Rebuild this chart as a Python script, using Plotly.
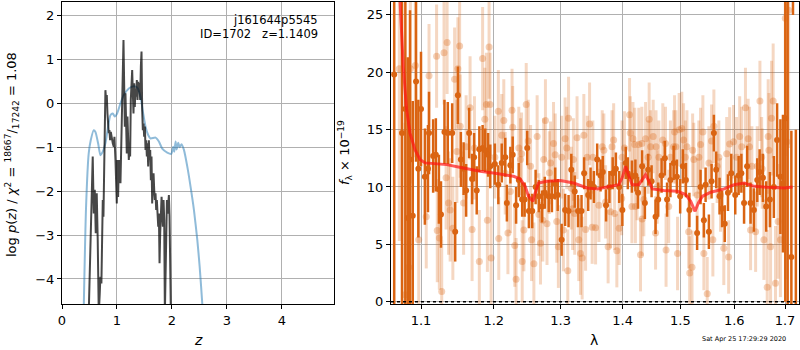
import plotly.graph_objects as go

# ---------------- left panel: p(z) curves ----------------
blue_z = [0.395,0.438,0.486,0.523,0.578,0.608,0.657,0.699,0.742,0.790,0.839,0.881,0.924,0.960,1.003,
          1.064,1.125,1.216,1.307,1.368,1.429,1.477,1.520,1.568,1.611,1.702,1.763,1.824,1.915,1.988,
          2.024,2.043,2.067,2.085,2.116,2.140,2.176,2.219,2.280,2.340,2.401,2.462,2.505,2.553,2.58]
blue_v = [-4.7,-2.35,-1.14,-0.84,-0.61,-0.65,-0.91,-1.18,-1.10,-0.91,-0.53,-0.27,-0.23,-0.30,-0.23,
          0.0,0.19,0.34,0.39,0.36,0.15,-0.23,-0.53,-0.72,-0.80,-0.78,-0.87,-1.03,-1.12,-1.15,
          -0.99,-1.10,-0.87,-1.05,-0.90,-1.00,-0.93,-1.06,-1.44,-1.90,-2.43,-3.11,-3.72,-4.57,-5.2]

dark_z = [0.486,0.517,0.535,0.559,0.578,0.596,0.614,0.632,0.650,0.669,0.687,0.699,0.717,0.729,0.742,
          0.754,0.766,0.778,0.790,0.802,0.815,0.827,0.839,0.851,0.863,0.875,0.888,0.900,0.912,0.924,
          0.942,0.954,0.973,0.985,0.997,1.009,1.021,1.033,1.046,1.064,1.082,1.094,1.106,1.119,1.131,
          1.143,1.155,1.167,1.179,1.191,1.204,1.216,1.228,1.240,1.252,1.264,1.277,1.289,1.301,1.313,
          1.325,1.337,1.350,1.362,1.374,1.386,1.398,1.410,1.422,1.435,1.447,1.459,1.471,1.483,1.495,
          1.508,1.520,1.532,1.544,1.556,1.568,1.581,1.593,1.605,1.617,1.629,1.641,1.653,1.666,1.678,
          1.690,1.702,1.714,1.726,1.739,1.751,1.763,1.775,1.787,1.799,1.812,1.824,1.836,1.848,1.860,
          1.872,1.884,1.897,1.909,1.921,1.933,1.945,1.957,1.970,1.982]
dark_v = [-4.8,-2.96,-2.51,-1.21,-2.51,-1.97,-2.96,-2.05,-3.11,-4.8,-4.33,-3.95,-4.10,-2.96,-2.20,
          -2.58,-1.21,-0.53,0.30,0.08,0.19,-0.23,-0.53,-0.68,-0.61,-0.84,-0.65,-0.76,-0.84,-0.91,
          -0.99,-0.76,-1.29,-1.97,-2.28,-1.29,-2.13,-1.44,-1.29,-1.82,-0.68,0.08,0.84,1.44,0.46,
          -0.53,0.23,-0.68,-1.14,-0.30,-0.84,-1.29,-0.99,-1.21,0.08,0.72,0.76,0.23,-0.23,0.46,
          -0.08,0.34,0.15,0.53,0.08,0.49,0.30,0.46,0.08,0.84,1.18,-0.15,-0.61,-0.46,-0.76,
          -0.53,-1.06,-0.84,-1.21,-0.91,-1.44,-0.84,-1.29,-1.06,-1.75,-1.21,-2.28,-1.90,-1.59,-1.97,
          -2.20,-2.05,-2.43,-2.20,-2.51,-2.81,-2.51,-3.64,-2.96,-2.35,-2.13,-2.51,-2.81,-2.20,-2.66,
          -4.8,-3.72,-2.35,-2.20,-2.51,-2.13,-2.09,-2.58,-3.72,-4.9]

# ---------------- right panel: spectrum ----------------
# dark (primary) spectrum points
lam_d = [1.0653,1.0753,1.0796,1.0827,1.0857,1.0892,1.0935,1.0965,1.1000,1.1051,1.1092,1.1106,1.1161,1.1197,1.1238,
         1.1266,1.1313,1.1358,1.1418,1.1459,1.1496,1.1537,1.1575,1.1610,1.1652,1.1693,1.1721,1.1758,1.1795,1.1841,
         1.1878,1.1919,1.1950,
         1.2016,1.2066,1.2115,1.2166,1.2190,1.2241,1.2275,1.2325,1.2365,1.2415,1.2451,1.2490,1.2515,1.2565,1.2616,
         1.2665,1.2714,1.2755,1.2815,1.2864,1.2915,1.2954,1.3015,1.3069,1.3123,1.3166,1.3220,1.3273,1.3328,1.3370,
         1.3435,1.3473,
         1.3527,1.3580,1.3635,1.3672,1.3725,1.3780,1.3834,1.3887,1.3942,1.3995,1.4052,1.4087,1.4156,1.4215,1.4260,
         1.4330,1.4377,1.4434,1.4493,1.4562,1.4608,1.4667,1.4724,1.4764,1.4823,1.4880,1.4938,1.4997,1.5045,1.5100,
         1.5163,
         1.5304,1.5367,1.5428,1.5460,1.5521,1.5571,1.5614,1.5657,1.5720,1.5768,1.5818,1.5879,1.5942,1.6018,1.6083,
         1.6136,1.6188,1.6247,1.6314,1.6379,1.6445,1.6492,1.6557,1.6622,1.6696,1.6775,1.6840,1.6907,1.6959,1.7006,
         1.7054,1.7130,1.7163,1.7222]
flux_d = [19.8,14.7,16.8,7.3,12.4,7.5,19.2,11.6,16.8,10.9,11.6,14.7,12.7,12.8,9.8,
          7.6,14.8,14.7,14.7,6.1,18.0,12.4,11.6,9.7,14.7,10.7,12.6,9.7,13.3,13.4,
          13.2,12.8,11.8,
          12.0,10.2,12.1,12.6,8.6,11.9,12.8,8.4,10.6,8.9,8.9,13.4,7.9,7.9,10.0,
          9.2,8.3,9.5,9.2,9.2,10.3,9.3,5.4,8.0,7.9,11.5,9.6,7.9,7.9,11.2,
          9.3,10.3,
          10.0,12.4,11.0,11.3,8.4,10.0,11.2,11.6,10.0,8.0,12.1,11.2,10.9,11.0,9.5,
          11.8,8.6,11.5,10.5,7.4,8.9,11.0,12.5,8.9,10.6,12.1,10.9,9.2,11.8,10.6,
          8.0,
          6.0,10.0,7.1,10.2,6.1,10.5,14.7,11.5,9.2,8.1,6.8,9.5,11.2,9.3,11.0,
          11.2,8.6,11.8,8.6,8.0,10.6,11.3,10.8,8.3,8.9,10.0,14.1,10.9,10.3,16.0,
          27.0,3.9,30.0,-3.0]
err_d = [25,22,18,14,13,10,7,6,5,4.2,3.8,3.6,3.2,3.2,3.0,
         2.9,2.8,2.7,2.6,2.6,2.5,2.4,2.3,2.3,2.2,2.2,2.1,2.1,2.0,2.0,
         1.9,1.9,1.9,
         1.8,1.7,1.7,1.7,1.6,1.6,1.6,1.6,1.5,1.5,1.5,1.5,1.5,1.5,1.5,
         1.4,1.4,1.4,1.4,1.4,1.4,1.4,1.4,1.4,1.4,1.4,1.4,1.4,1.4,1.4,
         1.4,1.4,
         1.4,1.4,1.4,1.4,1.4,1.4,1.4,1.4,1.4,1.4,1.4,1.4,1.4,1.4,1.4,
         1.4,1.4,1.4,1.4,1.5,1.5,1.5,1.5,1.5,1.5,1.5,1.5,1.5,1.5,1.5,
         1.5,
         1.5,1.5,1.5,1.5,1.5,1.5,1.6,1.6,1.6,1.6,1.6,1.6,1.7,1.7,1.7,
         1.7,1.8,1.8,1.8,1.9,1.9,2.0,2.1,2.2,2.4,2.7,3.2,5.0,6.0,16.0,
         30.0,11.0,5.0,18.0]

# light (secondary) spectrum points, grouped by error level
lam_la = [1.0718,1.0792,1.0840,1.0861,1.0926,1.0970]
flux_la = [20.3,0.6,3.0,20.3,20.6,5.4]
err_la = [15,15,10,10,8,7]

lam_lb = [1.1069,1.1106,1.1207,1.1216,1.1244,1.1276,1.1307,1.1335,1.1349,1.1368,1.1390,1.1427,1.1451,1.1482,1.1496,
          1.1520,1.1528,1.1575,1.1610,1.1665,1.1693,1.1726,1.1795,1.1841,1.1872,1.1895,1.1909,1.1933,1.1947,1.1962]
flux_lb = [7.4,19.7,21.4,6.2,5.55,0.9,21.7,10.8,22.6,8.6,8.0,6.4,19.4,13.1,20.3,
           22.3,15.3,8.6,13.5,16.9,6.3,13.4,3.5,21.2,15.9,17.2,7.1,22.2,17.2,3.8]
err_lb = 4.5

lam_lc = [1.2016,1.2066,1.2072,1.2115,1.2145,1.2166,1.2205,1.2241,1.2265,1.2275,1.2305,1.2325,1.2365,1.2390,1.2406,
          1.2415,1.2440,1.2475,1.2505,1.2540,1.2555,1.2590,1.2639,1.2665,1.2690,1.2725,1.2739,1.2765,1.2789,1.2825,
          1.2844,1.2889,1.2915,1.2939,1.2964,1.3015,1.3042,1.3069,1.3095,1.3111,1.3123,1.3166,1.3187,1.3199,1.3220,
          1.3257,1.3284,1.3312,1.3338,1.3365,1.3393,1.3419,1.3457]
flux_lc = [12.6,16.6,5.5,14.5,15.8,11.2,6.0,9.6,16.7,15.2,4.9,1.95,13.4,12.4,12.9,
           3.5,6.25,17.2,14.0,11.8,5.4,3.3,14.4,7.6,5.1,7.1,12.4,15.8,6.8,11.25,
           12.1,13.8,12.8,7.0,4.8,12.6,6.25,14.2,13.4,2.7,16.0,9.9,8.1,12.4,7.7,
           14.3,5.4,4.2,3.8,14.5,6.3,12.6,15.5]
err_lc = 3.6

lam_ld = [1.3499,1.3510,1.3554,1.3608,1.3662,1.3689,1.3717,1.3759,1.3798,1.3823,1.3850,1.3866,1.3903,1.3942,1.3984,
          1.3990,1.4030,1.4116,1.4128,1.4156,1.4174,1.4203,1.4215,1.4243,1.4273,1.4302,1.4325,1.4330,1.4359,1.4389,
          1.4434,1.4451,1.4476,1.4521,1.4562,1.4570,1.4590,1.4620,1.4689,1.4736,1.4746,1.4793,1.4823,1.4880,1.4897,
          1.4920,1.4950,1.4979,1.5026,1.5058,1.5089,1.5119,1.5150,1.5169,1.5211,1.5222,1.5243,1.5304,1.5336,1.5367,
          1.5410,1.5428,1.5490,1.5521,1.5571,1.5595,1.5614,1.5675,1.5707,1.5738,1.5800,1.5855,1.5892,1.5911,1.5985]
flux_ld = [6.5,12.6,6.45,8.4,13.5,13.2,8.7,4.8,7.85,13.5,14.1,7.7,4.45,6.4,9.0,
           12.6,13.4,16.3,14.7,8.3,14.2,13.7,8.3,10.3,13.7,4.1,13.8,7.2,8.9,14.2,
           12.6,15.9,13.5,14.4,6.0,13.5,10.0,12.6,14.1,13.8,4.5,8.3,12.6,13.5,14.8,
           13.5,4.2,15.0,15.1,14.1,12.6,13.5,6.1,2.5,3.0,13.2,12.4,9.3,12.6,13.7,
           14.8,4.2,0.7,12.1,14.0,5.4,15.3,11.8,12.6,9.3,4.65,12.9,3.9,13.75,13.95]
err_ld = 3.2

lam_le = [1.6043,1.6103,1.6142,1.6215,1.6267,1.6294,1.6314,1.6340,1.6413,1.6445,1.6498,1.6532,1.6543,1.6577]
flux_le = [12.6,14.4,13.5,16.9,14.2,13.5,6.25,11.8,6.1,11.8,17.5,12.6,11.6,5.4]
err_le = 3.5

lam_lf = [1.6642,1.6662,1.6676,1.6709,1.6729,1.6761,1.6808,1.6860,1.6907]
flux_lf = [1.25,14.4,13.2,4.8,16.0,17.5,1.6,7.0,5.4]
err_lf = 5.0

lam_lg = [1.7006,1.7039,1.7074]
flux_lg = [24.7,13.95,25.4]
err_lg = 12.0

# best-fit model
lam_m = [1.0727,1.0769,1.0812,1.0856,1.0921,1.0987,1.1053,1.1344,1.1570,1.1806,1.2045,1.2287,1.2386,1.2460,1.2509,
         1.2575,1.2610,1.2660,1.2788,1.2993,1.3202,1.3417,1.3578,1.3797,1.3935,1.3992,1.4049,1.4104,1.4161,1.4273,
         1.4344,1.4389,1.4447,1.4505,1.4708,1.4946,1.5096,1.5187,1.5266,1.5327,1.5402,1.5556,1.5806,1.5997,1.6190,
         1.6385,1.6650,1.6985,1.7155]
flux_m = [26.3,20.5,16.75,14.7,13.26,12.4,12.1,11.95,11.66,11.37,11.17,10.93,10.7,10.06,9.19,
          8.75,9.48,10.35,10.5,10.56,10.35,9.92,9.83,10.06,10.2,10.8,11.8,10.93,10.2,10.2,
          10.8,11.08,10.5,9.83,9.69,9.63,9.34,8.75,7.88,8.61,9.19,9.54,9.83,10.2,10.35,
          10.06,9.97,9.92,10.0]

left_xticks = [0, 1, 2, 3, 4]
left_yticks = [-4, -3, -2, -1, 0, 1, 2]
right_xticks = [1.1, 1.2, 1.3, 1.4, 1.5, 1.6, 1.7]
right_xticktext = ["1.1", "1.2", "1.3", "1.4", "1.5", "1.6", "1.7"]
right_yticks = [0, 5, 10, 15, 20, 25]

DARK = "rgb(218,100,18)"
LIGHT_BAR = "rgba(218,100,18,0.26)"
LIGHT_MK = "rgba(218,100,18,0.30)"
FONT = "DejaVu Sans"

fig = go.Figure()

# left panel curves
fig.add_trace(go.Scatter(x=blue_z, y=blue_v, mode="lines", line=dict(color="rgba(31,119,180,0.5)", width=2, shape="spline", smoothing=0.6),
                         xaxis="x", yaxis="y", hoverinfo="skip"))
fig.add_trace(go.Scatter(x=dark_z, y=dark_v, mode="lines", line=dict(color="rgba(0,0,0,0.72)", width=2),
                         xaxis="x", yaxis="y", hoverinfo="skip"))

# light spectrum groups
for lam, fl, er in [(lam_la, flux_la, err_la), (lam_lb, flux_lb, err_lb), (lam_lc, flux_lc, err_lc),
                    (lam_ld, flux_ld, err_ld), (lam_le, flux_le, err_le), (lam_lf, flux_lf, err_lf),
                    (lam_lg, flux_lg, err_lg)]:
    if isinstance(er, list):
        ey = dict(type="data", array=er, visible=True, color=LIGHT_BAR, thickness=3, width=0)
    else:
        ey = dict(type="constant", value=er, visible=True, color=LIGHT_BAR, thickness=3, width=0)
    fig.add_trace(go.Scatter(x=lam, y=fl, mode="markers", marker=dict(color=LIGHT_MK, size=7),
                             error_y=ey, xaxis="x2", yaxis="y2", hoverinfo="skip"))

# dark spectrum
fig.add_trace(go.Scatter(x=lam_d, y=flux_d, mode="markers", marker=dict(color=DARK, size=6),
                         error_y=dict(type="data", array=err_d, visible=True, color=DARK, thickness=2.5, width=0),
                         xaxis="x2", yaxis="y2", hoverinfo="skip"))

# model
fig.add_trace(go.Scatter(x=lam_m, y=flux_m, mode="lines", line=dict(color="rgba(255,20,20,0.7)", width=3),
                         xaxis="x2", yaxis="y2", hoverinfo="skip"))

# zero line (dotted)
fig.add_shape(type="line", xref="x2 domain", x0=0, x1=1, yref="y2", y0=0, y1=0,
              line=dict(color="black", width=1.6, dash="dot"))

ax_common = dict(showgrid=True, gridcolor="#b0b0b0", gridwidth=1, zeroline=False, showline=True,
                 linecolor="black", linewidth=1, mirror=True, ticks="outside", ticklen=4,
                 tickcolor="black", tickfont=dict(family=FONT, size=13, color="black"), automargin=False)

ydom = [1 - 304 / 350, 1 - 1.5 / 350]
fig.update_layout(
    width=800, height=350, margin=dict(l=0, r=0, t=0, b=0, pad=0, autoexpand=False),
    paper_bgcolor="white", plot_bgcolor="white", showlegend=False,
    font=dict(family=FONT, color="black"),
    xaxis=dict(domain=[62 / 800, 334.3 / 800], range=[0, 4.955], tickvals=left_xticks, anchor="y", **ax_common),
    yaxis=dict(domain=ydom, range=[-4.57, 2.32], tickvals=left_yticks, anchor="x", **ax_common),
    xaxis2=dict(domain=[391 / 800, 799 / 800], type="log", range=[0.025809, 0.237722], tickvals=right_xticks,
                ticktext=right_xticktext, anchor="y2", **ax_common),
    yaxis2=dict(domain=ydom, range=[-0.2, 26.17], tickvals=right_yticks, anchor="x2", **ax_common),
)

def px(xp, yp):
    return xp / 800, 1 - yp / 350

annots = [
    dict(text="j161644p5545", xy=(320, 20), xanchor="right", size=11.5, angle=0),
    dict(text="ID=1702\u00a0\u00a0\u00a0z=1.1409", xy=(320, 34.5), xanchor="right", size=11.5, angle=0),
    dict(text="<i>z</i>", xy=(198, 340), xanchor="center", size=14, angle=0),
    dict(text="λ", xy=(594, 340), xanchor="center", size=14, angle=0),
    dict(text="log <i>p</i>(<i>z</i>) / <i>χ</i><sup>2</sup> = <sup>18667</sup>/<sub>17242</sub> = 1.08",
         xy=(12, 155), xanchor="center", size=13, angle=-90),
    dict(text="<i>f</i><sub>λ</sub> × 10<sup>−19</sup>", xy=(345, 153), xanchor="center", size=13, angle=-90),
    dict(text="Sat Apr 25 17:29:29 2020", xy=(788, 339), xanchor="right", size=6.5, angle=0),
]
for a in annots:
    x, y = px(*a["xy"])
    fig.add_annotation(text=a["text"], x=x, y=y, xref="paper", yref="paper", xanchor=a["xanchor"],
                       yanchor="middle", showarrow=False, textangle=a["angle"],
                       font=dict(family=FONT, size=a["size"], color="black"))

fig.write_html("out.html", config={"displayModeBar": False},
               post_script="document.body.style.margin='0';document.body.style.padding='0';")
